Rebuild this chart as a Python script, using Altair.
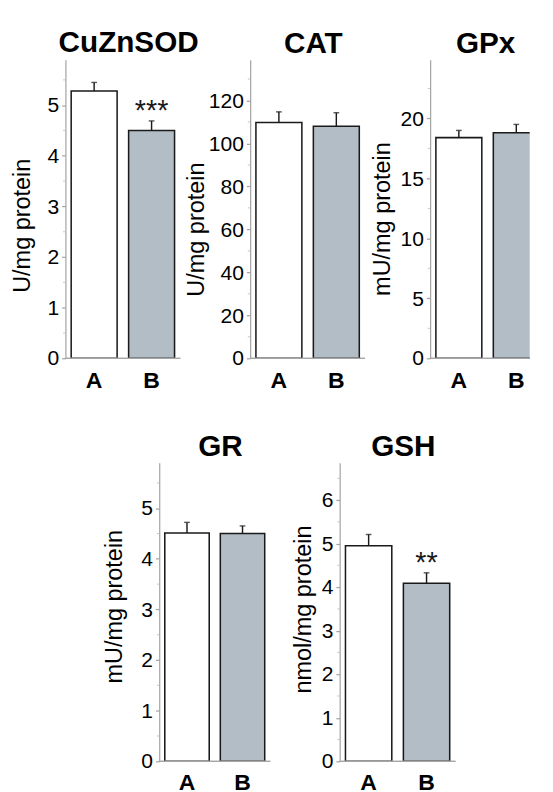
import altair as alt
import pandas as pd

FONT = "Liberation Sans"

groups = ["A", "B"]

sod_vals = [5.28, 4.50]
sod_errs = [0.17, 0.19]
cat_vals = [109.8, 108.0]
cat_errs = [4.9, 6.3]
gpx_vals = [18.4, 18.8]
gpx_errs = [0.6, 0.7]
gr_vals = [4.51, 4.50]
gr_errs = [0.21, 0.15]
gsh_vals = [4.95, 4.09]
gsh_errs = [0.26, 0.24]

sod_stars = ["", "***"]
gsh_stars = ["", "**"]
none_stars = ["", ""]

sod_ticks = [0, 1, 2, 3, 4, 5]
sod_minor = [0.5, 1.5, 2.5, 3.5, 4.5, 5.5]
cat_ticks = [0, 20, 40, 60, 80, 100, 120]
cat_minor = [10, 30, 50, 70, 90, 110, 130]
gpx_ticks = [0, 5, 10, 15, 20]
gpx_minor = [2.5, 7.5, 12.5, 17.5, 22.5]
gr_ticks = [0, 1, 2, 3, 4, 5]
gr_minor = [0.5, 1.5, 2.5, 3.5, 4.5, 5.5]
gsh_ticks = [0, 1, 2, 3, 4, 5, 6]
gsh_minor = [0.5, 1.5, 2.5, 3.5, 4.5, 5.5, 6.5]

fills = ["#ffffff", "#b3bdc5"]
AXIS_GRAY = "#a6a6a6"
INK = "#1a1a1a"
TITLE_OFFSET = -24


def panel(title, ytitle, vals, errs, stars, ymax, ticks, minor, title_pad, title_y,
          w=120, h=312, band_span=None):
    df = pd.DataFrame({
        "g": groups,
        "v": vals,
        "top": [v + e for v, e in zip(vals, errs)],
        "s": stars,
    })
    mdf = pd.DataFrame({"m": minor})
    xscale = alt.Scale(paddingInner=0.2, paddingOuter=0.1)
    if band_span is not None:
        xscale = alt.Scale(paddingInner=0.2, paddingOuter=0.1, range=[0, band_span])
    xenc = alt.X(
        "g:N",
        scale=xscale,
        axis=alt.Axis(
            title=None, labelAngle=0, labelFontSize=24, labelFontWeight="bold",
            labelColor="black", labelFont=FONT, ticks=False, domain=False,
            labelPadding=11,
        ),
    )
    yscale = alt.Scale(domain=[0, ymax], nice=False, zero=True)
    base = alt.Chart(df)
    bars = base.mark_bar(stroke=INK, strokeWidth=1.6, clip=True).encode(
        x=xenc,
        y=alt.Y(
            "v:Q", scale=yscale,
            axis=alt.Axis(
                values=ticks, title=ytitle, grid=False, tickSize=4, tickColor=AXIS_GRAY,
                tickWidth=1.3, domainColor=AXIS_GRAY, domainWidth=1.3,
                labelFontSize=22, labelColor="black",
                labelFont=FONT, labelPadding=3, titleFontSize=24.5, titleFont=FONT,
                titleFontWeight="normal", titleColor="black", titlePadding=title_pad,
                titleY=title_y,
            ),
        ),
        fill=alt.Fill("g:N", scale=alt.Scale(domain=groups, range=fills), legend=None),
    )
    baseline = base.mark_rule(color=AXIS_GRAY, strokeWidth=1.3).encode(
        y=alt.datum(0, scale=yscale)
    )
    minor_ticks = alt.Chart(mdf).mark_rule(color="#c4c4c4", strokeWidth=1).encode(
        x=alt.value(-2.5), x2=alt.value(0), y=alt.Y("m:Q", scale=yscale)
    )
    stems = base.mark_rule(color=INK, strokeWidth=1.5).encode(
        x="g:N", y="v:Q", y2="top:Q"
    )
    caps = base.mark_tick(color=INK, size=6, thickness=1.5).encode(
        x="g:N", y="top:Q"
    )
    txt = base.mark_text(
        fontSize=30, font=FONT, baseline="alphabetic", dy=-1, color=INK
    ).encode(x="g:N", y="top:Q", text="s:N")
    return alt.layer(bars, baseline, minor_ticks, stems, caps, txt).properties(
        width=w, height=h,
        title=alt.TitleParams(
            title, fontSize=31, font=FONT, fontWeight="bold", color="black",
            anchor="middle", baseline="alphabetic", offset=TITLE_OFFSET,
            frame="group", dx=6,
        ),
    )


p1 = panel("CuZnSOD", "U/mg protein", sod_vals, sod_errs, sod_stars, 5.9,
           sod_ticks, sod_minor, 13, 173)
p2 = panel("CAT", "U/mg protein", cat_vals, cat_errs, none_stars, 139,
           cat_ticks, cat_minor, 0, 177)
p3 = panel("GPx", "mU/mg protein", gpx_vals, gpx_errs, none_stars, 24.9,
           gpx_ticks, gpx_minor, 5.5, 166, w=104, band_span=120)
p4 = panel("GR", "mU/mg protein", gr_vals, gr_errs, none_stars, 5.9,
           gr_ticks, gr_minor, 15, 150, w=116)
p5 = panel("GSH", "nmol/mg protein", gsh_vals, gsh_errs, gsh_stars, 6.86,
           gsh_ticks, gsh_minor, 6, 153, w=121)

spacer = alt.Chart(pd.DataFrame({"a": [0]})).mark_point(opacity=0).encode(
    x=alt.value(0), y=alt.value(0)
).properties(width=38, height=10)

row1 = alt.hconcat(alt.hconcat(p1, p2, spacing=-16), p3, spacing=5)
row2 = alt.hconcat(spacer, alt.hconcat(p4, p5, spacing=20.5), spacing=0)

chart = alt.vconcat(row1, row2, spacing=42).properties(
    padding={"left": 2, "top": 2, "right": 0, "bottom": 0}
).configure(font=FONT, background="white").configure_view(stroke="transparent", strokeWidth=0)

chart.save("out.html", embed_options={"renderer": "svg", "actions": False})
